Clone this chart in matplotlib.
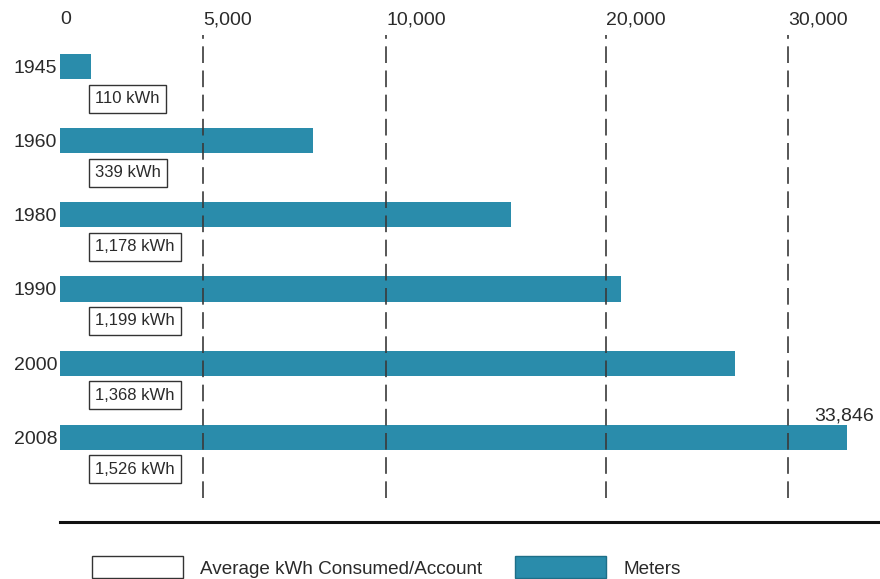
import matplotlib
matplotlib.use("Agg")
import matplotlib.pyplot as plt
import numpy as np
from matplotlib.patches import Patch
from matplotlib.lines import Line2D

plt.rcParams['font.family'] = ['Liberation Sans', 'DejaVu Sans']

# ---- data ----
years = ["1945", "1960", "1980", "1990", "2000", "2008"]
meters = [1100, 8000, 15700, 20800, 27100, 33846]
avg_kwh_labels = ["110 kWh", "339 kWh", "1,178 kWh", "1,199 kWh", "1,368 kWh", "1,526 kWh"]
tick_values = [0, 5000, 10000, 20000, 30000]
tick_labels = ["0", "5,000", "10,000", "20,000", "30,000"]
last_label = "33,846"

# ---- style ----
TEAL = '#2a8cab'
TXT = '#2a2a2a'
GRID = '#3a3a3a'

# non-linear (piecewise) axis scale as drawn in the reference
knot_vals = np.array([0, 5000, 10000, 20000, 30000, 40000], dtype=float)
knot_pos = np.array([0, 143, 326, 546, 728, 881], dtype=float)

def fwd(x):
    return np.interp(x, knot_vals, knot_pos)

def inv(y):
    return np.interp(y, knot_pos, knot_vals)

fig = plt.figure(figsize=(8.8, 5.79), dpi=100)
W, H = 880, 579
ax = fig.add_axes([60 / W, (H - 498) / H, 820 / W, 463 / H])
ax.set_xscale('function', functions=(fwd, inv))

y = np.arange(len(years))
ax.barh(y, meters, height=0.338, color=TEAL, zorder=2)

for v in tick_values[1:]:
    ax.axvline(v, color=GRID, lw=1.2, dashes=(10, 4.5), zorder=3)

ax.set_xlim(0, float(inv(820)))
ax.set_ylim(5.824, -0.432)

ax.set_xticks(tick_values)
ax.set_xticklabels(tick_labels)
ax.tick_params(axis='x', top=True, labeltop=True, bottom=False, labelbottom=False,
               length=0, pad=5, labelsize=14, labelcolor=TXT)
for lab in ax.get_xticklabels():
    lab.set_ha('left')
ax.get_xticklabels()[0].set_x(0)

ax.set_yticks(y)
ax.set_yticklabels(years)
ax.tick_params(axis='y', length=0, pad=2, labelsize=14, labelcolor=TXT)

for s in ax.spines.values():
    s.set_visible(False)

# kWh label boxes
for i, lab in enumerate(avg_kwh_labels):
    ax.annotate(lab, xy=(0, i), xycoords='data',
                xytext=(35 * 0.72, -32 * 0.72), textcoords='offset points',
                ha='left', va='center', fontsize=12, color=TXT,
                bbox=dict(boxstyle='square,pad=0.38', facecolor='white',
                          edgecolor='#333333', lw=1.0),
                zorder=4, annotation_clip=False)

ax.annotate(last_label, xy=(meters[-1], len(years) - 1), xycoords='data',
            xytext=(27 * 0.72, 17 * 0.72), textcoords='offset points',
            ha='right', va='baseline', fontsize=14, color=TXT, zorder=5)

# bottom rule
fig.add_artist(Line2D([60 / W, 1.0], [(H - 522) / H] * 2, color='#111111', lw=2.2,
                      transform=fig.transFigure))

# legend
fs = 13.6
px = fs * 100 / 72
handles = [Patch(facecolor='white', edgecolor='#333333', lw=1.0),
           Patch(facecolor=TEAL, edgecolor='#1e6f88', lw=1.0)]
fig.legend(handles, ["Average kWh Consumed/Account", "Meters"],
           loc='lower left', bbox_to_anchor=(92 / W, 1 / H), ncol=2,
           frameon=False, borderpad=0, borderaxespad=0,
           handlelength=91 / px, handleheight=26 / px,
           handletextpad=17 / px, columnspacing=33 / px,
           prop={'size': fs}, labelcolor=TXT)

fig.savefig('out.png', dpi=100)
